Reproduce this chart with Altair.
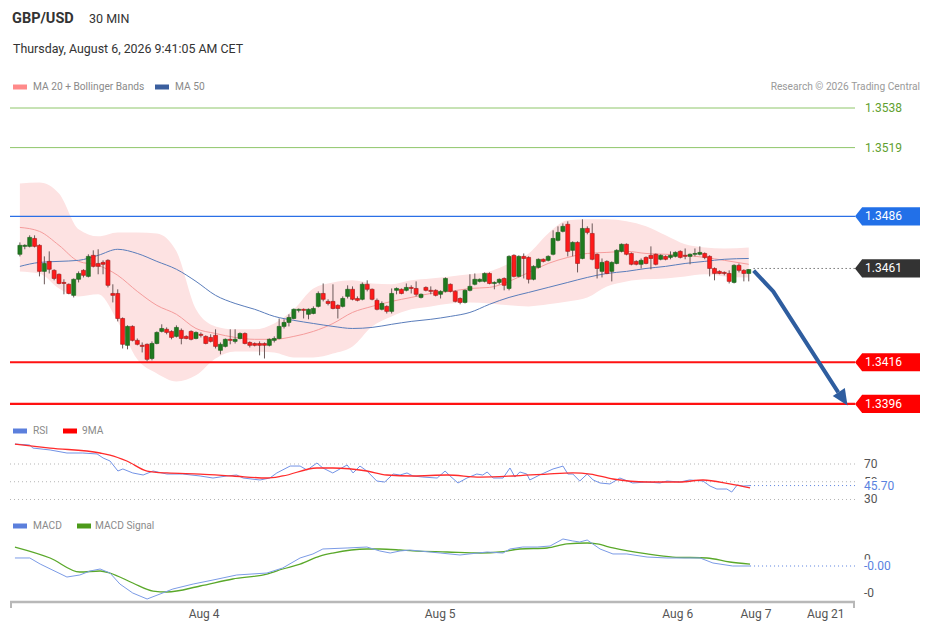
import altair as alt
import pandas as pd

# ---------------- text ----------------
symbol = "GBP/USD"
timeframe = "30 MIN"
timestamp = "Thursday, August 6, 2026 9:41:05 AM CET"
credit = "Research \u00a9 2026 Trading Central"
price_legend = ["MA 20 + Bollinger Bands", "MA 50"]
rsi_legend = ["RSI", "9MA"]
macd_legend = ["MACD", "MACD Signal"]

# ---------------- candles (30 min) ----------------
opens = [
    1.34678, 1.34716, 1.34716, 1.34754, 1.34721, 1.34596, 1.34644, 1.34601, 1.34582, 1.34543,
    1.34534, 1.34481, 1.34558, 1.34601, 1.34572, 1.34673, 1.34634, 1.34639, 1.34649, 1.34490,
    1.34490, 1.34370, 1.34241, 1.34332, 1.34265, 1.34241, 1.34246, 1.34178, 1.34250, 1.34308,
    1.34318, 1.34308, 1.34284, 1.34313, 1.34284, 1.34308, 1.34274, 1.34294, 1.34284, 1.34279,
    1.34289, 1.34217, 1.34236, 1.34270, 1.34260, 1.34274, 1.34298, 1.34255, 1.34250, 1.34250,
    1.34250, 1.34241, 1.34265, 1.34274, 1.34332, 1.34351, 1.34370, 1.34409, 1.34414, 1.34390,
    1.34394, 1.34428, 1.34490, 1.34452, 1.34452, 1.34433, 1.34428, 1.34476, 1.34510, 1.34466,
    1.34462, 1.34534, 1.34510, 1.34457, 1.34414, 1.34428, 1.34404, 1.34505, 1.34510, 1.34505,
    1.34519, 1.34514, 1.34471, 1.34519, 1.34505, 1.34505, 1.34486, 1.34500, 1.34534, 1.34500,
    1.34466, 1.34447, 1.34505, 1.34534, 1.34548, 1.34548, 1.34586, 1.34538, 1.34543, 1.34562,
    1.34514, 1.34673, 1.34572, 1.34668, 1.34663, 1.34558, 1.34615, 1.34654, 1.34649, 1.34678,
    1.34745, 1.34788, 1.34822, 1.34697, 1.34735, 1.34658, 1.34802, 1.34778, 1.34678, 1.34596,
    1.34644, 1.34596, 1.34634, 1.34692, 1.34726, 1.34682, 1.34644, 1.34630, 1.34663, 1.34673,
    1.34678, 1.34654, 1.34668, 1.34663, 1.34668, 1.34692, 1.34673, 1.34668, 1.34678, 1.34678,
    1.34682, 1.34668, 1.34610, 1.34596, 1.34591, 1.34586, 1.34543, 1.34625, 1.34601, 1.34586,
]
highs = [
    1.34735, 1.34726, 1.34769, 1.34769, 1.34726, 1.34668, 1.34692, 1.34606, 1.34586, 1.34558,
    1.34538, 1.34562, 1.34596, 1.34606, 1.34678, 1.34697, 1.34702, 1.34649, 1.34654, 1.34534,
    1.34510, 1.34375, 1.34337, 1.34337, 1.34274, 1.34255, 1.34250, 1.34260, 1.34308, 1.34342,
    1.34327, 1.34313, 1.34337, 1.34322, 1.34289, 1.34313, 1.34308, 1.34303, 1.34289, 1.34294,
    1.34318, 1.34255, 1.34274, 1.34318, 1.34318, 1.34303, 1.34303, 1.34260, 1.34255, 1.34260,
    1.34255, 1.34274, 1.34284, 1.34370, 1.34366, 1.34390, 1.34418, 1.34418, 1.34418, 1.34418,
    1.34428, 1.34500, 1.34538, 1.34462, 1.34534, 1.34438, 1.34476, 1.34529, 1.34524, 1.34476,
    1.34543, 1.34553, 1.34514, 1.34466, 1.34452, 1.34433, 1.34514, 1.34519, 1.34514, 1.34538,
    1.34529, 1.34548, 1.34490, 1.34524, 1.34524, 1.34510, 1.34505, 1.34567, 1.34538, 1.34505,
    1.34471, 1.34510, 1.34582, 1.34586, 1.34562, 1.34591, 1.34591, 1.34548, 1.34562, 1.34567,
    1.34673, 1.34678, 1.34673, 1.34682, 1.34668, 1.34625, 1.34658, 1.34658, 1.34673, 1.34793,
    1.34812, 1.34826, 1.34836, 1.34740, 1.34740, 1.34846, 1.34812, 1.34826, 1.34682, 1.34658,
    1.34649, 1.34644, 1.34702, 1.34730, 1.34730, 1.34687, 1.34649, 1.34658, 1.34668, 1.34716,
    1.34682, 1.34678, 1.34673, 1.34692, 1.34692, 1.34697, 1.34706, 1.34682, 1.34706, 1.34716,
    1.34687, 1.34673, 1.34615, 1.34601, 1.34596, 1.34601, 1.34630, 1.34634, 1.34606, 1.34606,
]
lows = [
    1.34668, 1.34702, 1.34711, 1.34711, 1.34572, 1.34534, 1.34586, 1.34553, 1.34534, 1.34486,
    1.34486, 1.34471, 1.34543, 1.34567, 1.34567, 1.34615, 1.34582, 1.34582, 1.34519, 1.34447,
    1.34356, 1.34226, 1.34222, 1.34260, 1.34241, 1.34207, 1.34164, 1.34169, 1.34246, 1.34303,
    1.34294, 1.34270, 1.34279, 1.34246, 1.34270, 1.34265, 1.34270, 1.34279, 1.34246, 1.34255,
    1.34226, 1.34198, 1.34231, 1.34246, 1.34250, 1.34270, 1.34246, 1.34231, 1.34236, 1.34193,
    1.34178, 1.34236, 1.34255, 1.34270, 1.34322, 1.34332, 1.34366, 1.34399, 1.34370, 1.34366,
    1.34390, 1.34423, 1.34452, 1.34433, 1.34414, 1.34370, 1.34423, 1.34466, 1.34457, 1.34452,
    1.34457, 1.34500, 1.34457, 1.34409, 1.34409, 1.34394, 1.34394, 1.34486, 1.34486, 1.34500,
    1.34490, 1.34476, 1.34466, 1.34500, 1.34486, 1.34476, 1.34466, 1.34495, 1.34495, 1.34447,
    1.34438, 1.34442, 1.34500, 1.34529, 1.34543, 1.34543, 1.34534, 1.34510, 1.34534, 1.34505,
    1.34505, 1.34567, 1.34567, 1.34562, 1.34538, 1.34553, 1.34610, 1.34639, 1.34644, 1.34673,
    1.34740, 1.34783, 1.34668, 1.34668, 1.34591, 1.34654, 1.34774, 1.34649, 1.34562, 1.34567,
    1.34582, 1.34548, 1.34630, 1.34687, 1.34673, 1.34625, 1.34625, 1.34610, 1.34630, 1.34606,
    1.34625, 1.34649, 1.34649, 1.34654, 1.34663, 1.34658, 1.34654, 1.34630, 1.34668, 1.34673,
    1.34654, 1.34572, 1.34553, 1.34582, 1.34577, 1.34538, 1.34538, 1.34591, 1.34548, 1.34548,
]
closes = [
    1.34721, 1.34721, 1.34759, 1.34716, 1.34596, 1.34634, 1.34606, 1.34562, 1.34538, 1.34538,
    1.34490, 1.34558, 1.34586, 1.34577, 1.34668, 1.34620, 1.34620, 1.34630, 1.34529, 1.34481,
    1.34370, 1.34246, 1.34332, 1.34265, 1.34246, 1.34236, 1.34174, 1.34250, 1.34303, 1.34322,
    1.34303, 1.34279, 1.34327, 1.34274, 1.34274, 1.34270, 1.34303, 1.34289, 1.34250, 1.34260,
    1.34236, 1.34246, 1.34270, 1.34265, 1.34270, 1.34298, 1.34250, 1.34241, 1.34241, 1.34241,
    1.34241, 1.34270, 1.34274, 1.34332, 1.34351, 1.34375, 1.34414, 1.34414, 1.34409, 1.34414,
    1.34418, 1.34490, 1.34462, 1.34442, 1.34418, 1.34418, 1.34466, 1.34510, 1.34462, 1.34457,
    1.34534, 1.34510, 1.34462, 1.34414, 1.34442, 1.34404, 1.34490, 1.34514, 1.34490, 1.34519,
    1.34514, 1.34486, 1.34486, 1.34505, 1.34500, 1.34481, 1.34500, 1.34562, 1.34500, 1.34452,
    1.34447, 1.34505, 1.34524, 1.34558, 1.34558, 1.34586, 1.34538, 1.34543, 1.34558, 1.34529,
    1.34668, 1.34572, 1.34668, 1.34658, 1.34558, 1.34620, 1.34654, 1.34644, 1.34668, 1.34754,
    1.34783, 1.34812, 1.34692, 1.34735, 1.34634, 1.34802, 1.34783, 1.34654, 1.34610, 1.34639,
    1.34586, 1.34639, 1.34697, 1.34726, 1.34678, 1.34630, 1.34630, 1.34649, 1.34634, 1.34658,
    1.34630, 1.34673, 1.34654, 1.34673, 1.34687, 1.34663, 1.34668, 1.34678, 1.34682, 1.34687,
    1.34663, 1.34610, 1.34586, 1.34586, 1.34586, 1.34548, 1.34625, 1.34601, 1.34586, 1.34605,
]

# ---------------- overlays (read at every 4th candle) ----------------
band_idx = [1, 5, 9, 13, 17, 21, 25, 29, 33, 37, 41, 45, 49, 53, 57, 61, 65, 69, 73, 77,
            81, 85, 89, 93, 97, 101, 105, 109, 113, 117, 121, 125, 129, 133, 137, 141, 145, 150]
band_upper = [1.35018, 1.35023, 1.34970, 1.34798, 1.34764, 1.34783, 1.34783, 1.34778, 1.34692, 1.34414,
              1.34332, 1.34318, 1.34318, 1.34346, 1.34414, 1.34514, 1.34543, 1.34553, 1.34538, 1.34534,
              1.34553, 1.34562, 1.34572, 1.34582, 1.34596, 1.34634, 1.34682, 1.34778, 1.34841, 1.34846,
              1.34846, 1.34836, 1.34812, 1.34769, 1.34726, 1.34711, 1.34706, 1.34711]
band_lower = [1.34596, 1.34586, 1.34514, 1.34476, 1.34486, 1.34356, 1.34174, 1.34106, 1.34068, 1.34097,
              1.34178, 1.34212, 1.34212, 1.34207, 1.34183, 1.34183, 1.34202, 1.34236, 1.34332, 1.34380,
              1.34414, 1.34428, 1.34442, 1.34447, 1.34442, 1.34433, 1.34428, 1.34438, 1.34452, 1.34471,
              1.34524, 1.34548, 1.34558, 1.34562, 1.34572, 1.34582, 1.34572, 1.34567]
ma20 = [1.34807, 1.34788, 1.34721, 1.34644, 1.34625, 1.34577, 1.34500, 1.34433, 1.34390, 1.34322,
        1.34298, 1.34279, 1.34270, 1.34270, 1.34284, 1.34308, 1.34346, 1.34399, 1.34428, 1.34452,
        1.34471, 1.34490, 1.34500, 1.34514, 1.34519, 1.34548, 1.34591, 1.34634, 1.34663, 1.34682,
        1.34687, 1.34692, 1.34682, 1.34678, 1.34673, 1.34663, 1.34649, 1.34630]
ma50 = [1.34620, 1.34639, 1.34644, 1.34649, 1.34673, 1.34702, 1.34682, 1.34644, 1.34606, 1.34548,
        1.34481, 1.34442, 1.34414, 1.34380, 1.34361, 1.34346, 1.34332, 1.34322, 1.34327, 1.34342,
        1.34356, 1.34366, 1.34380, 1.34399, 1.34438, 1.34471, 1.34495, 1.34519, 1.34543, 1.34567,
        1.34586, 1.34596, 1.34610, 1.34620, 1.34634, 1.34644, 1.34654, 1.34658]

# ---------------- levels and forecast ----------------
resistances = [1.3538, 1.3519]
pivot = [1.3486]
supports = [1.3416, 1.3396]
last_price = [1.3461]
last_start = [151]
forecast_idx = [151, 155, 168.3]
forecast_price = [1.3460, 1.3450, 1.34015]
head_idx = [169.3]
head_price = [1.33985]

# ---------------- RSI ----------------
rsi_idx = [1, 4, 4.6, 8.1, 11.5, 14.7, 17.6, 18.8, 20.2, 21.8, 22.8, 24.8, 26.9, 28.9, 31.7,
           34.9, 38.4, 41, 43.8, 45.8, 47.1, 50.5, 52.5, 53.9, 56.6, 58.6, 60, 62, 63.2, 65.2,
           68.1, 69.3, 70.7, 72.1, 74.1, 75.7, 77.4, 78.8, 80.2, 81.4, 83.4, 86.3, 87.9, 88.9, 90.5,
           92.3, 94.3, 95.5, 96.4, 97.6, 99.6, 101, 102, 103, 104.4, 105, 107, 109.7, 111.1, 111.7,
           112.7, 113.7, 115.1, 116.6, 117.8, 119.2, 121.2, 123.2, 125.8, 128.7, 131.3, 132.7, 135.3,
           137.3, 140, 141.4, 142.8, 144.8, 145.8, 146.9, 148.1, 149.5]
rsi_val = [92.5, 91.4, 88.0, 85.8, 82.4, 82.4, 81.3, 76.8, 73.4, 62.1, 64.4, 59.9, 57.6, 62.1, 58.7,
           58.7, 56.5, 54.2, 56.5, 57.6, 54.2, 52.0, 54.2, 59.9, 67.7, 67.7, 63.2, 71.1, 65.5, 59.9,
           68.9, 59.9, 67.7, 62.1, 50.8, 49.7, 58.7, 57.6, 59.9, 56.5, 55.3, 54.2, 62.1, 56.5, 48.6,
           54.2, 58.7, 57.6, 61.0, 54.2, 54.2, 65.5, 55.3, 61.0, 58.7, 52.0, 57.6, 64.4, 66.6, 67.7,
           58.7, 58.7, 50.8, 58.7, 52.0, 48.6, 47.5, 54.2, 48.6, 49.7, 48.6, 50.8, 49.7,
           52.0, 50.8, 45.2, 41.8, 41.8, 38.4, 46.3, 45.2, 45.7]
rsi_ma_idx = [1, 8.1, 18.2, 20.2, 23.6, 27.7, 31.7, 38.4, 45, 51.9, 55.1, 62, 65.2, 72.1,
              76.1, 81.4, 88.3, 95, 101.6, 108.5, 113.7, 117.2, 121.8, 128.7, 135.3, 140, 145.4, 149.5]
rsi_ma_val = [92.5, 88.0, 82.4, 80.1, 73.4, 62.1, 59.9, 58.7, 56.5, 54.2, 56.5, 65.5, 65.5, 62.1,
              57.6, 56.5, 57.6, 55.3, 56.5, 58.7, 59.9, 58.7, 53.1, 49.7, 49.7, 52.0, 47.5, 43.0]
rsi_levels = [70, 50, 30]
rsi_last = [45.70]

# ---------------- MACD ----------------
macd_idx = [1, 4, 6.1, 11.5, 14.1, 16.2, 18.2, 20.2, 22.2, 24.8, 27.7, 30.3, 32.9, 37, 41,
            45.8, 51.9, 55.1, 58.6, 61.2, 63.2, 68.1, 72.1, 74.7, 76.8, 78.8, 80.8, 86.9, 90.9, 96.4,
            99.6, 101, 103.6, 106.5, 109.1, 111.7, 113.7, 115.1, 116.6, 119.2, 121.8, 124.6, 128.7,
            132.7, 139.4, 142, 146, 149.5]
macd_val = [0.15e-4, 0.15e-4, -0.74e-4, -2.65e-4, -2.35e-4, -1.76e-4, -1.47e-4, -2.06e-4, -3.68e-4, -5.0e-4,
            -5.88e-4, -5.15e-4, -4.41e-4, -3.68e-4, -3.09e-4, -2.35e-4, -2.06e-4, -1.32e-4, 0.15e-4, 0.74e-4,
            1.47e-4, 1.62e-4, 1.76e-4, 1.18e-4, 0.88e-4, 1.18e-4, 1.32e-4, 0.88e-4, 0.59e-4, 1.03e-4,
            0.88e-4, 1.47e-4, 1.76e-4, 1.76e-4, 1.91e-4, 2.94e-4, 2.65e-4, 2.5e-4, 2.79e-4, 1.47e-4,
            0.74e-4, 0.74e-4, 0.29e-4, 0.15e-4, 0.15e-4, -0.59e-4, -1.03e-4, -1.03e-4]
signal_idx = [1, 8.1, 14.1, 18.2, 20.2, 24.8, 28.9, 31.7, 38.4, 45, 51.9, 55.1, 58.6, 62.6, 65.2,
              72.1, 74.7, 78.8, 81.4, 88.3, 95, 99, 103, 108.5, 112.5, 116.6, 118.6, 121.8, 128.7,
              133.9, 140.8, 145.4, 149.5]
signal_val = [1.76e-4, 0.15e-4, -1.91e-4, -1.76e-4, -2.06e-4, -3.53e-4, -4.71e-4, -4.85e-4, -3.97e-4, -2.94e-4,
              -2.21e-4, -1.47e-4, -0.74e-4, 0.44e-4, 0.88e-4, 1.47e-4, 1.47e-4, 1.32e-4, 1.18e-4, 1.03e-4,
              0.88e-4, 1.03e-4, 1.47e-4, 1.62e-4, 2.21e-4, 2.35e-4, 2.21e-4, 1.62e-4, 0.74e-4, 0.29e-4,
              0.15e-4, -0.44e-4, -0.74e-4]
macd_ticks = [0.0, -0.0005]
macd_tick_labels = ["0", "-0"]
macd_last = [-1.03e-4]
macd_last_label = ["-0.00"]

# ---------------- time axis ----------------
date_ticks = [39.2, 86.9, 134.9, 150.7, 164.8]
date_labels = ["Aug 4", "Aug 5", "Aug 6", "Aug 7", "Aug 21"]

# ======================================================
FONT = "Roboto"
W = 845
PH, RH, MH, HH = 323, 100, 86, 84
TAGW = 65
xs = alt.Scale(domain=[0, 170.7], nice=False, zero=False)
ps = alt.Scale(domain=[1.33902, 1.35452], nice=False, zero=False)
rs = alt.Scale(domain=[11.4, 124.1], nice=False, zero=False)
ms = alt.Scale(domain=[-0.000632, 0.000632], nice=False, zero=False)

TAG = "M-1,0L-0.78,-0.28L1,-0.28L1,0.28L-0.78,0.28Z"
BOX = "M-1,-0.36L1,-0.36L1,0.36L-1,0.36Z"
HEAD = "M0,-1L0.9,1L-0.9,1Z"


def X(f="idx"):
    return alt.X(f"{f}:Q", scale=xs, axis=None, title=None)


def Y(f, sc):
    return alt.Y(f"{f}:Q", scale=sc, axis=None, title=None)


def txt(text, x, y, size, color, weight="normal", align="left"):
    return alt.Chart(pd.DataFrame({"t": [text]})).mark_text(
        align=align, baseline="middle", fontSize=size, color=color,
        fontWeight=weight, font=FONT).encode(x=alt.value(x), y=alt.value(y), text="t:N")


def swatch(x, y, color, w=14, h=5):
    return alt.Chart(pd.DataFrame({"a": [0]})).mark_rule(color=color, strokeWidth=h).encode(
        x=alt.value(x), x2=alt.value(x + w), y=alt.value(y))


def hrule(vals, sc, color, width, dash=None):
    kw = dict(color=color, strokeWidth=width)
    if dash:
        kw["strokeDash"] = dash
    return alt.Chart(pd.DataFrame({"v": vals})).mark_rule(**kw).encode(
        y=Y("v", sc), x=alt.value(0), x2=alt.value(W))


def tag(vals, color):
    df = pd.DataFrame({"v": vals})
    box = alt.Chart(df).mark_point(shape=TAG, size=TAGW * TAGW, filled=True, color=color,
                                   opacity=1, strokeWidth=0).encode(
        x=alt.value(W + TAGW / 2), y=Y("v", ps))
    t = alt.Chart(df).mark_text(align="left", baseline="middle", color="white",
                                fontSize=12, font=FONT).encode(
        x=alt.value(W + 10), y=Y("v", ps), text=alt.Text("v:Q", format=".4f"))
    return box + t


# ---------------- header ----------------
header = alt.layer(
    txt(symbol, 2, 10, 14.5, "#333333", "bold"),
    txt(timeframe, 79, 10, 12.5, "#333333"),
    txt(timestamp, 3, 40, 12.4, "#333333"),
    swatch(3, 78, "#ff8a8a"), txt(price_legend[0], 23, 78, 10.2, "#8a8a8a"),
    swatch(145, 78, "#3b5f9e"), txt(price_legend[1], 165, 78, 10.2, "#8a8a8a"),
    txt(credit, W + TAGW, 78, 10.2, "#9a9a9a", align="right"),
).properties(width=W, height=HH)

# ---------------- price panel ----------------
candles = pd.DataFrame({"idx": list(range(1, len(opens) + 1)), "open": opens,
                        "high": highs, "low": lows, "close": closes})
bands = pd.DataFrame({"idx": band_idx, "upper": band_upper, "lower": band_lower,
                      "ma20": ma20, "ma50": ma50})
up = "datum.close >= datum.open"

band = alt.Chart(bands).mark_area(color="#fde2e2", opacity=1, interpolate="monotone").encode(
    x=X(), y=Y("lower", ps), y2="upper:Q")
ma20_line = alt.Chart(bands).mark_line(color="#f59c9c", strokeWidth=1, interpolate="monotone").encode(
    x=X(), y=Y("ma20", ps))
ma50_line = alt.Chart(bands).mark_line(color="#5a7dbb", strokeWidth=1, interpolate="monotone").encode(
    x=X(), y=Y("ma50", ps))
wicks = alt.Chart(candles).mark_rule(color="#6b5858", strokeWidth=1).encode(
    x=X(), y=Y("low", ps), y2="high:Q")
bodies = alt.Chart(candles).mark_bar(size=4, strokeWidth=0.6).encode(
    x=X(), y=Y("open", ps), y2="close:Q",
    color=alt.condition(up, alt.value("#1f7a1f"), alt.value("#ff1a1a")),
    stroke=alt.condition(up, alt.value("#175c17"), alt.value("#a01818")))

res_lines = hrule(resistances, ps, "#8fc66a", 1)
piv_line = hrule(pivot, ps, "#2b6fe6", 1.3)
sup_lines = hrule(supports, ps, "#ff1111", 2.2)
last_line = alt.Chart(pd.DataFrame({"s": last_start, "v": last_price})).mark_rule(
    color="#333333", strokeWidth=1, strokeDash=[1, 3]).encode(
    x=X("s"), x2=alt.value(W), y=Y("v", ps))

res_text = alt.Chart(pd.DataFrame({"v": resistances})).mark_text(
    align="left", baseline="middle", color="#5f9f2f", fontSize=12, font=FONT).encode(
    x=alt.value(W + 10), y=Y("v", ps), text=alt.Text("v:Q", format=".4f"))

arrow = alt.Chart(pd.DataFrame({"idx": forecast_idx, "v": forecast_price})).mark_line(
    color="#2e5d9f", strokeWidth=4, strokeJoin="round").encode(x=X(), y=Y("v", ps))
head = alt.Chart(pd.DataFrame({"idx": head_idx, "v": head_price})).mark_point(
    shape=HEAD, size=256, angle=147, filled=True, color="#2e5d9f", opacity=1, strokeWidth=0).encode(
    x=X(), y=Y("v", ps))

price_panel = alt.layer(
    band, res_lines, piv_line, sup_lines, ma20_line, ma50_line, wicks, bodies,
    last_line, arrow, head, res_text,
    tag(pivot, "#2270e8"), tag(last_price, "#333333"), tag(supports, "#ff0000"),
).properties(width=W, height=PH)

# ---------------- RSI panel ----------------
rsi_df = pd.DataFrame({"idx": rsi_idx, "v": rsi_val})
rsi_ma_df = pd.DataFrame({"idx": rsi_ma_idx, "v": rsi_ma_val})
rsi_last_df = pd.DataFrame({"s": [rsi_idx[-1]], "v": rsi_last})

rsi_panel = alt.layer(
    hrule(rsi_levels, rs, "#b5b5b5", 1, [1, 3]),
    alt.Chart(rsi_last_df).mark_rule(color="#5a82e0", strokeWidth=1, strokeDash=[1, 3]).encode(
        x=X("s"), x2=alt.value(W), y=Y("v", rs)),
    alt.Chart(rsi_df).mark_line(color="#7393e6", strokeWidth=1).encode(x=X(), y=Y("v", rs)),
    alt.Chart(rsi_ma_df).mark_line(color="#ff2b2b", strokeWidth=1.3, interpolate="monotone").encode(
        x=X(), y=Y("v", rs)),
    alt.Chart(pd.DataFrame({"v": rsi_levels})).mark_text(
        align="left", baseline="middle", color="#555555", fontSize=12, font=FONT).encode(
        x=alt.value(W + 9), y=Y("v", rs), text=alt.Text("v:Q", format="d")),
    alt.Chart(rsi_last_df).mark_point(shape=BOX, size=1296, filled=True, color="white",
                                      opacity=1, strokeWidth=0).encode(
        x=alt.value(W + 26), y=Y("v", rs)),
    alt.Chart(rsi_last_df).mark_text(
        align="left", baseline="middle", color="#5a82e0", fontSize=12, font=FONT).encode(
        x=alt.value(W + 9), y=Y("v", rs), text=alt.Text("v:Q", format=".2f")),
    swatch(3, 15, "#5b7fdc"), txt(rsi_legend[0], 23, 15, 10.2, "#8a8a8a"),
    swatch(53, 15, "#ff0000"), txt(rsi_legend[1], 72, 15, 10.2, "#8a8a8a"),
).properties(width=W, height=RH)

# ---------------- MACD panel ----------------
macd_df = pd.DataFrame({"idx": macd_idx, "v": macd_val})
sig_df = pd.DataFrame({"idx": signal_idx, "v": signal_val})
mlast_df = pd.DataFrame({"s": [macd_idx[-1]], "v": macd_last, "t": macd_last_label})
mtick_df = pd.DataFrame({"v": macd_ticks, "t": macd_tick_labels})
date_df = pd.DataFrame({"idx": date_ticks, "t": date_labels})

macd_panel = alt.layer(
    alt.Chart(mlast_df).mark_rule(color="#5a82e0", strokeWidth=1, strokeDash=[1, 3]).encode(
        x=X("s"), x2=alt.value(W), y=Y("v", ms)),
    alt.Chart(sig_df).mark_line(color="#5aa82a", strokeWidth=1.3, interpolate="monotone").encode(
        x=X(), y=Y("v", ms)),
    alt.Chart(macd_df).mark_line(color="#7b9be6", strokeWidth=1).encode(x=X(), y=Y("v", ms)),
    alt.Chart(mtick_df).mark_text(
        align="left", baseline="middle", color="#555555", fontSize=12, font=FONT).encode(
        x=alt.value(W + 9), y=Y("v", ms), text="t:N"),
    alt.Chart(mlast_df).mark_point(shape=BOX, size=1296, filled=True, color="white",
                                   opacity=1, strokeWidth=0).encode(
        x=alt.value(W + 26), y=Y("v", ms)),
    alt.Chart(mlast_df).mark_text(
        align="left", baseline="middle", color="#5a82e0", fontSize=12, font=FONT).encode(
        x=alt.value(W + 9), y=Y("v", ms), text="t:N"),
    swatch(3, 10, "#5b7fdc"), txt(macd_legend[0], 23, 10, 10.2, "#8a8a8a"),
    swatch(67, 10, "#4c9a1a"), txt(macd_legend[1], 85, 10, 10.2, "#8a8a8a"),
    # time axis
    alt.Chart(pd.DataFrame({"a": [0]})).mark_rule(color="#b8b8b8", strokeWidth=2.5).encode(
        x=alt.value(0), x2=alt.value(W), y=alt.value(MH)),
    alt.Chart(pd.DataFrame({"a": [0]})).mark_rule(color="#b8b8b8", strokeWidth=2).encode(
        x=alt.value(1), y=alt.value(MH), y2=alt.value(MH + 6)),
    alt.Chart(pd.DataFrame({"a": [0]})).mark_rule(color="#b8b8b8", strokeWidth=2).encode(
        x=alt.value(W - 1), y=alt.value(MH), y2=alt.value(MH + 6)),
    alt.Chart(date_df).mark_text(
        align="center", baseline="middle", color="#555555", fontSize=12, font=FONT).encode(
        x=X(), y=alt.value(MH + 12), text="t:N"),
).properties(width=W, height=MH)

chart = alt.vconcat(
    header, price_panel, rsi_panel, macd_panel, spacing=0, bounds="flush"
).resolve_scale(x="independent", y="independent").properties(
    padding={"left": 0, "top": 0, "right": 0, "bottom": 0}, background="white"
).configure_view(stroke="transparent")

chart.save("out.html", embed_options={"renderer": "svg", "actions": False})
